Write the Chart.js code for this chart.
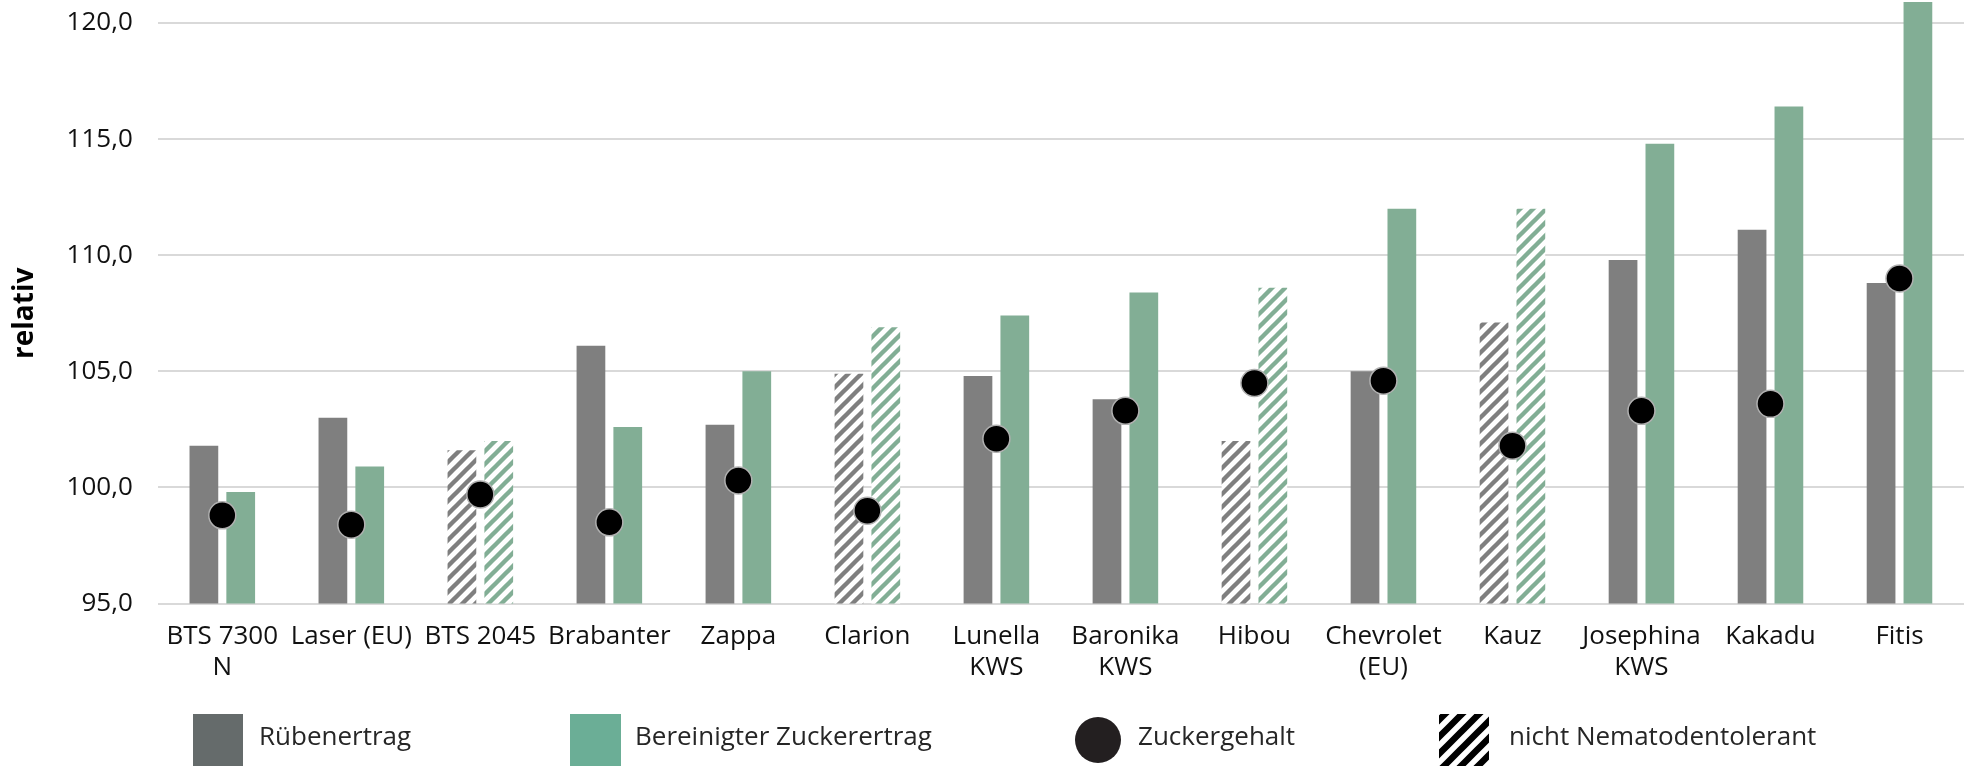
<!DOCTYPE html>
<html lang="de">
  <head>
    <meta charset="utf-8">
    <title>Sortenvergleich relativ</title>
    <script src="https://cdn.jsdelivr.net/npm/chart.js@4.4.0/dist/chart.umd.min.js"></script>
    <style>
      body { margin: 0; background: #fff; }
      #wrap { width: 1979px; height: 766px; position: relative; }
    </style>
  </head>
  <body>
    <div id="wrap"><canvas id="bar-chart"></canvas></div>

  <script type="text/javascript">
  // sorten (x axis)
  var sorten = [["BTS 7300", "N"], "Laser (EU)", "BTS 2045", "Brabanter", "Zappa", "Clarion",
    ["Lunella", "KWS"], ["Baronika", "KWS"], "Hibou", ["Chevrolet", "(EU)"], "Kauz",
    ["Josephina", "KWS"], "Kakadu", "Fitis"];
  var ruebenertrag = [101.8, 103.0, 101.6, 106.1, 102.7, 104.9, 104.8, 103.8, 102.0, 105.0, 107.1, 109.8, 111.1, 108.8];
  var zuckerertrag = [99.8, 100.9, 102.0, 102.6, 105.0, 106.9, 107.4, 108.4, 108.6, 112.0, 112.0, 114.8, 116.4, 120.9];
  var zuckergehalt = [98.8, 98.4, 99.7, 98.5, 100.3, 99.0, 102.1, 103.3, 104.5, 104.6, 101.8, 103.3, 103.6, 109.0];
  // true = nicht nematodentolerant (hatched bars)
  var nichtTolerant = [false, false, true, false, false, true, false, false, true, false, true, false, false, false];
  var yTicks = [95, 100, 105, 110, 115, 120];

  var grau = "#7f7f7f";
  var gruen = "#82ae95";

  // diagonal stripes "/" as canvas pattern
  function stripes(color, size, width, bg) {
    var c = document.createElement("canvas");
    c.width = size; c.height = size;
    var x = c.getContext("2d");
    if (bg) { x.fillStyle = bg; x.fillRect(0, 0, size, size); }
    x.strokeStyle = color;
    x.lineWidth = width;
    x.beginPath();
    x.moveTo(-size / 2, size / 2); x.lineTo(size / 2, -size / 2);
    x.moveTo(0, size); x.lineTo(size, 0);
    x.moveTo(size / 2, size * 1.5); x.lineTo(size * 1.5, size / 2);
    x.stroke();
    return x.createPattern(c, "repeat");
  }

  function fills(color) {
    var p = stripes(color, 13, 4.4, "#ffffff");
    return nichtTolerant.map(function (n) { return n ? p : color; });
  }

  // legend drawn at the bottom, partly cut off like the original
  var legendPlugin = {
    id: "bottomLegend",
    afterDraw: function (chart) {
      var ctx = chart.ctx;
      var top = 714, ty = 738;
      ctx.save();
      ctx.font = "26px 'Open Sans'";
      ctx.textBaseline = "middle";
      ctx.fillStyle = "#656b6b";
      ctx.fillRect(193, top, 50, 60);
      ctx.fillStyle = "#6bae96";
      ctx.fillRect(570, top, 51, 60);
      ctx.fillStyle = "#231f20";
      ctx.beginPath();
      ctx.arc(1098, 740, 23, 0, Math.PI * 2);
      ctx.fill();
      ctx.fillStyle = stripes("#000000", 17, 6.5, "#ffffff");
      ctx.fillRect(1439, top, 50, 60);
      ctx.fillStyle = "#262626";
      ctx.fillText("Rübenertrag", 259, ty);
      ctx.fillText("Bereinigter Zuckerertrag", 635, ty);
      ctx.fillText("Zuckergehalt", 1138, ty);
      ctx.fillText("nicht Nematodentolerant", 1509, ty);
      ctx.restore();
    }
  };

  Chart.defaults.font.family = "'Open Sans', sans-serif";
  Chart.defaults.color = "#111111";

  // only the top may overflow (Fitis is above 120)
  var clipTop = { left: 0, top: false, right: 0, bottom: 0 };

  new Chart(document.getElementById("bar-chart"), {
    type: "bar",
    data: {
      labels: sorten,
      datasets: [
        {
          type: "line",
          label: "Zuckergehalt",
          data: zuckergehalt,
          showLine: false,
          pointRadius: 13.5,
          pointHoverRadius: 13.5,
          pointBackgroundColor: "#000000",
          pointBorderColor: "#b0b0b0",
          pointBorderWidth: 1.5,
          order: 0,
          clip: clipTop
        },
        {
          label: "Rübenertrag",
          data: ruebenertrag,
          backgroundColor: fills(grau),
          order: 1,
          clip: clipTop
        },
        {
          label: "Bereinigter Zuckerertrag",
          data: zuckerertrag,
          backgroundColor: fills(gruen),
          order: 1,
          clip: clipTop
        }
      ]
    },
    options: {
      responsive: true,
      maintainAspectRatio: false,
      animation: false,
      categoryPercentage: 0.571,
      barPercentage: 0.78,
      layout: { padding: { top: 23, right: 9, bottom: 66, left: 0 } },
      plugins: {
        legend: { display: false },
        tooltip: { enabled: false }
      },
      scales: {
        x: {
          grid: { display: false, drawTicks: false },
          border: { display: false },
          ticks: {
            font: { size: 26 },
            padding: 17,
            maxRotation: 0,
            autoSkip: false
          }
        },
        y: {
          min: 95,
          max: 120,
          afterBuildTicks: function (axis) {
            axis.ticks = yTicks.map(function (v) { return { value: v }; });
          },
          // tick padding should not push the plot area down
          afterFit: function (axis) {
            axis.paddingTop = 0;
            axis.paddingBottom = 0;
          },
          grid: { color: "#d9d9d9", lineWidth: 2, drawTicks: false },
          border: { display: false },
          ticks: {
            font: { size: 26 },
            padding: 25,
            callback: function (v) { return v.toFixed(1).replace(".", ","); }
          },
          title: {
            display: true,
            text: "relativ",
            font: { size: 28, weight: "bold" },
            color: "#000000",
            padding: { top: 8, bottom: 0 }
          }
        }
      }
    },
    plugins: [legendPlugin]
  });
  </script>
  </body>
</html>
